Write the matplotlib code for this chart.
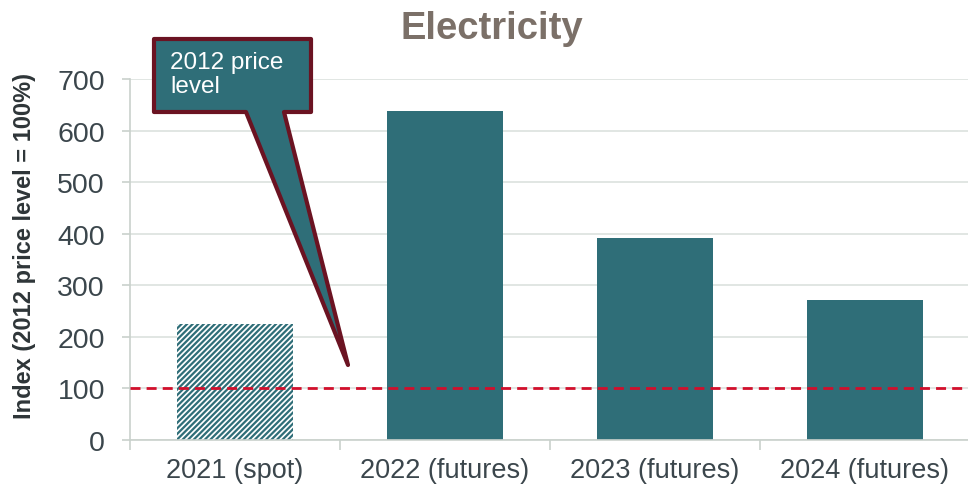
import matplotlib
matplotlib.use("Agg")
import matplotlib.pyplot as plt
import numpy as np
from matplotlib.patches import Polygon

plt.rcParams["font.family"] = ["Liberation Sans", "DejaVu Sans"]
plt.rcParams["hatch.linewidth"] = 1.6

# ── data ─────────────────────────────────
categories = ["2021 (spot)", "2022 (futures)", "2023 (futures)", "2024 (futures)"]
index_values = [225, 638, 392, 271]
is_spot = [True, False, False, False]
base_level = 100
yticks = [0, 100, 200, 300, 400, 500, 600, 700]

TEAL = "#2F6E78"
CALLOUT_EDGE = "#6B1322"
DASH_RED = "#D20F2C"
GRID = "#DCE1DE"
TEXT = "#3B464C"

fig = plt.figure(figsize=(9.68, 4.85), dpi=100)
ax = fig.add_axes([130 / 968, 44 / 485, 840 / 968, 361 / 485])

x = np.arange(len(categories))
for xi, val, spot in zip(x, index_values, is_spot):
    if spot:
        ax.bar(xi, val, width=0.557, facecolor="white", edgecolor=TEAL,
               linewidth=0, hatch="//////", zorder=2)
    else:
        ax.bar(xi, val, width=0.557, color=TEAL, linewidth=0, zorder=2)

# 2012 reference level
ax.axhline(base_level, color=DASH_RED, lw=2, linestyle=(0, (3.6, 2.2)), zorder=3)

ax.set_xlim(-0.5, 3.5)
ax.set_ylim(0, 700)
ax.set_yticks(yticks)
ax.yaxis.grid(True, color=GRID, lw=1.2, zorder=0)
ax.set_axisbelow(True)

ax.set_xticks(x)
ax.set_xticklabels(categories)
ax.set_xticks([-0.5, 0.5, 1.5, 2.5], minor=True)
ax.tick_params(axis="x", which="major", length=0, pad=12, labelsize=19.5, labelcolor=TEXT)
ax.tick_params(axis="x", which="minor", length=7, width=1.2, color="#C9D1CC")
ax.tick_params(axis="y", length=6, width=1.2, color="#C9D1CC", pad=12,
               labelsize=20.5, labelcolor=TEXT)

for side in ("top", "right"):
    ax.spines[side].set_visible(False)
for side in ("left", "bottom"):
    ax.spines[side].set_color("#C9D1CC")
    ax.spines[side].set_linewidth(1.2)

ax.set_ylabel("Index (2012 price level = 100%)", fontsize=17, fontweight="bold",
              color="#2E3538")
ax.yaxis.set_label_coords(-0.112, 0.54)

fig.text(0.508, 0.94, "Electricity", ha="center", va="center", fontsize=27.5,
         fontweight="bold", color="#7B7068")

# callout box with pointer to the dashed line
def px(xp, yp):
    return ((xp - 235) / 210, (441 - yp) / (361 / 700))

outline = [px(154, 40), px(311, 40), px(311, 113), px(284, 113),
           px(348, 366), px(246, 113), px(154, 113)]
ax.add_patch(Polygon(outline, closed=True, facecolor=TEAL, edgecolor=CALLOUT_EDGE,
                     lw=3, joinstyle="round", clip_on=False, zorder=5))
tx, ty = px(170, 52)
ax.text(tx, ty, "2012 price\nlevel", ha="left", va="top", fontsize=17.5,
        color="white", linespacing=1.1, zorder=6, clip_on=False)

fig.savefig("out.png", dpi=100, facecolor="white")
